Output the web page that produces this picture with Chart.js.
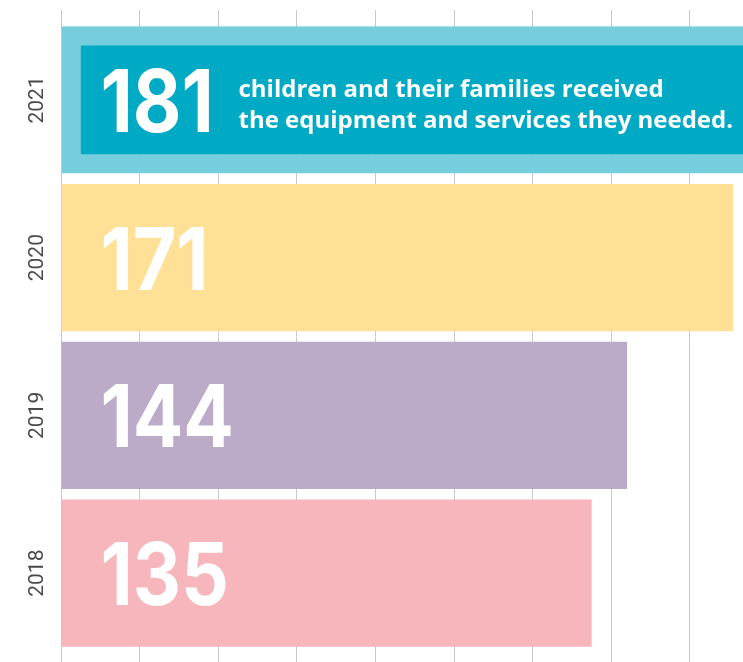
<!DOCTYPE html>
<html>
<head>
<meta charset="utf-8">
<script src="https://cdn.jsdelivr.net/npm/chart.js@4.4.1/dist/chart.umd.min.js"></script>
<style>
  html, body { margin: 0; padding: 0; background: #fff; }
  canvas { display: block; }
</style>
</head>
<body>
<canvas id="childrenChart" width="743" height="662"></canvas>
<script>
// data (top to bottom)
const years = ['2021', '2020', '2019', '2018'];
const counts = [181, 171, 144, 135];
const barColors = ['#00AAC5', '#FEE097', '#BCABC8', '#F7B6BB'];
const noteLines = [
  'children and their families received',
  'the equipment and services they needed.'
];

// big white numbers + the note in the 2021 bar
const barLabels = {
  id: 'barLabels',
  afterDatasetsDraw(chart) {
    const ctx = chart.ctx;
    const meta = chart.getDatasetMeta(0);
    ctx.save();
    ctx.fillStyle = '#fff';
    ctx.textBaseline = 'alphabetic';
    ctx.textAlign = 'left';
    meta.data.forEach((bar, i) => {
      const p = bar.getProps(['y', 'base'], true);
      ctx.save();
      ctx.translate(p.base + 39, p.y + 32);
      ctx.scale(0.86, 1);
      ctx.font = '700 87px Inter';
      ctx.fillText(String(counts[i]), 0, 0);
      ctx.restore();
      if (i === 0) {
        ctx.font = '700 24px "Open Sans"';
        ctx.fillText(noteLines[0], p.base + 177, p.y - 3);
        ctx.fillText(noteLines[1], p.base + 177, p.y + 28);
      }
    });
    ctx.restore();
  }
};

const onlyTwenties = axis => {
  axis.ticks = axis.ticks.filter(t => t.value % 20 === 0);
};

const barData = {
  labels: years,
  datasets: [{
    data: counts,
    backgroundColor: barColors,
    borderColor: ['#76CDDD', 'rgba(0,0,0,0)', 'rgba(0,0,0,0)', 'rgba(0,0,0,0)'],
    borderWidth: [19, 0, 0, 0],
    borderSkipped: false,
    categoryPercentage: 1,
    barPercentage: 0.932
  }]
};

const barConfig = {
  type: 'bar',
  data: barData,
  options: {
    indexAxis: 'y',
    responsive: false,
    animation: false,
    layout: { padding: { top: 10, left: 0, right: 0, bottom: 0 } },
    plugins: {
      legend: { display: false },
      tooltip: { enabled: false }
    },
    scales: {
      x: {
        position: 'bottom',
        min: 0,
        max: 173.5,
        ticks: { display: false, stepSize: 20 },
        afterBuildTicks: onlyTwenties,
        afterFit: axis => { axis.height = 10; },
        grid: { color: '#c8c8c8', lineWidth: 1, tickLength: 10, drawTicks: true },
        border: { display: false }
      },
      x2: {
        position: 'top',
        min: 0,
        max: 173.5,
        ticks: { display: false, stepSize: 20 },
        afterBuildTicks: onlyTwenties,
        afterFit: axis => { axis.height = 11; },
        grid: { color: '#c8c8c8', lineWidth: 1, tickLength: 11, drawTicks: true, drawOnChartArea: false },
        border: { display: false }
      },
      y: {
        afterFit: axis => {
          axis.width = 61;
          axis.paddingTop = 0;
          axis.paddingBottom = 0;
        },
        ticks: {
          minRotation: 90,
          maxRotation: 90,
          crossAlign: 'center',
          padding: 0,
          color: '#4a4a4a',
          font: { family: 'Roboto', size: 21 }
        },
        grid: { display: false, drawTicks: false },
        border: { display: false }
      }
    }
  },
  plugins: [barLabels]
};

const childrenChart = new Chart(
  document.getElementById('childrenChart'),
  barConfig
);
</script>
</body>
</html>
